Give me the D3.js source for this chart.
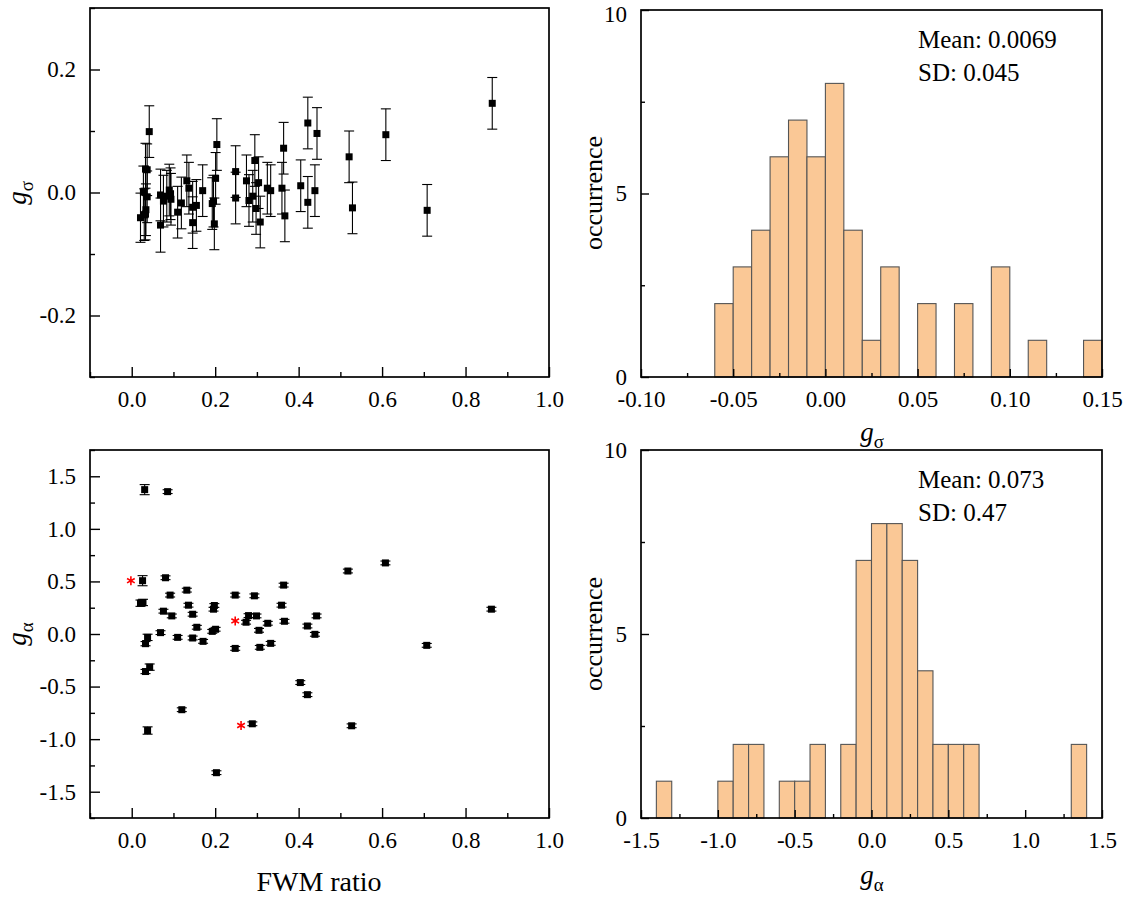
<!DOCTYPE html>
<html><head><meta charset="utf-8">
<script src="https://cdn.jsdelivr.net/npm/d3@7"></script>
<style>
body{margin:0;background:#fff;}
svg{display:block;font-family:"Liberation Serif","Times New Roman",serif;}
</style></head>
<body><svg id="c" width="1125" height="898"></svg>
<script>
// ---------- data ----------
const fwmSigma = [0.021,0.030,0.033,0.028,0.037,0.033,0.037,0.042,0.069,0.069,0.076,0.084,0.093,0.094,0.110,0.119,0.132,0.137,0.146,0.146,0.155,0.170,0.204,0.201,0.193,0.196,0.198,0.249,0.249,0.275,0.281,0.290,0.295,0.304,0.298,0.308,0.325,0.333,0.364,0.360,0.367,0.405,0.422,0.444,0.422,0.439,0.521,0.529,0.609,0.708,0.864,0.034,0.090];
const gSigma   = [-0.041,-0.036,-0.035,0.001,-0.007,0.038,0.037,0.099,-0.053,-0.004,-0.014,-0.006,-0.002,-0.011,-0.032,-0.017,0.019,0.007,-0.024,-0.049,-0.021,0.003,0.078,0.023,-0.018,-0.014,-0.051,0.034,-0.009,0.019,-0.013,-0.006,0.052,0.016,-0.026,-0.048,0.007,0.003,0.072,0.007,-0.038,0.011,0.113,0.096,-0.016,0.003,0.058,-0.025,0.094,-0.029,0.145,-0.028,0.004];
const gSigmaErr= [0.040,0.042,0.042,0.042,0.042,0.042,0.042,0.042,0.044,0.042,0.042,0.042,0.042,0.042,0.042,0.042,0.042,0.042,0.042,0.042,0.042,0.042,0.042,0.042,0.042,0.042,0.042,0.042,0.042,0.042,0.042,0.042,0.042,0.042,0.042,0.042,0.042,0.042,0.042,0.042,0.042,0.042,0.042,0.042,0.042,0.042,0.042,0.042,0.042,0.042,0.042,0.042,0.042];

const fwmAlpha = [0.031,0.086,0.026,0.081,0.092,0.132,0.021,0.027,0.076,0.096,0.136,0.146,0.156,0.069,0.110,0.146,0.171,0.198,0.196,0.193,0.201,0.038,0.033,0.043,0.033,0.120,0.038,0.203,0.248,0.248,0.294,0.280,0.299,0.274,0.326,0.305,0.307,0.333,0.289,0.364,0.359,0.366,0.421,0.443,0.439,0.404,0.421,0.518,0.527,0.608,0.707,0.862];
const gAlpha   = [1.373,1.354,0.507,0.535,0.370,0.417,0.293,0.300,0.217,0.172,0.274,0.188,0.064,0.013,-0.032,-0.038,-0.070,0.271,0.236,0.025,0.045,-0.032,-0.092,-0.315,-0.357,-0.720,-0.918,-1.319,0.370,-0.137,0.363,0.175,0.172,0.112,0.102,0.035,-0.127,-0.089,-0.854,0.465,0.274,0.121,0.076,0.172,-0.003,-0.462,-0.577,0.599,-0.873,0.676,-0.108,0.236];
const gAlphaErr= [0.048,0.018,0.048,0.018,0.018,0.018,0.030,0.030,0.018,0.018,0.018,0.018,0.018,0.018,0.018,0.018,0.018,0.018,0.018,0.018,0.018,0.030,0.020,0.030,0.020,0.018,0.035,0.018,0.018,0.018,0.018,0.018,0.018,0.018,0.018,0.018,0.018,0.018,0.018,0.018,0.018,0.018,0.018,0.018,0.018,0.018,0.018,0.018,0.018,0.018,0.018,0.018];

const starFwm   = [-0.002, 0.248, 0.262];
const starAlpha = [0.507, 0.124, -0.870];

const sigmaBinStart = -0.06, sigmaBinWidth = 0.01;
const sigmaCounts = [2,3,4,6,7,6,8,4,1,3,0,2,0,2,0,3,0,1,0,0,1];
const alphaBinStart = -1.4, alphaBinWidth = 0.1;
const alphaCounts = [1,0,0,0,1,2,2,0,1,1,2,0,2,7,8,8,7,4,2,2,2,0,0,0,0,0,0,2];

const fwmMajor = [0.0,0.2,0.4,0.6,0.8,1.0], fwmMinor = [-0.1,0.1,0.3,0.5,0.7,0.9];
const gsMajor = [-0.2,0.0,0.2], gsMinor = [-0.3,-0.1,0.1,0.3];
const gaMajor = [-1.5,-1.0,-0.5,0.0,0.5,1.0,1.5], gaMinor = [-1.75,-1.25,-0.75,-0.25,0.25,0.75,1.25,1.75];
const hsMajor = [-0.10,-0.05,0.00,0.05,0.10,0.15], hsMinor = [-0.075,-0.025,0.025,0.075,0.125];
const haMajor = [-1.5,-1.0,-0.5,0.0,0.5,1.0,1.5], haMinor = [-1.25,-0.75,-0.25,0.25,0.75,1.25];
const occMajor = [0,5,10], occMinor = [2.5,7.5];
const statsSigma = ["Mean: 0.0069","SD: 0.045"];
const statsAlpha = ["Mean: 0.073","SD: 0.47"];

// ---------- drawing ----------
const svg = d3.select("#c");
const TICK = 23, TXT = 25, TITLE = 27;

function panel(x0,x1,y0,y1,xd,yd){
  return {x:d3.scaleLinear().domain(xd).range([x0,x1]),
          y:d3.scaleLinear().domain(yd).range([y1,y0]), x0,x1,y0,y1};
}
function axes(p, xMaj, xMin, yMaj, yMin, fx, fy, majLen, minLen){
  const g = svg.append("g");
  const bx = g.append("g").attr("transform",`translate(0,${p.y1})`);
  bx.call(d3.axisBottom(p.x).tickValues(xMin).tickSize(-minLen).tickFormat(""));
  bx.append("g").call(d3.axisBottom(p.x).tickValues(xMaj).tickSize(-majLen).tickPadding(14).tickFormat(fx));
  const ly = g.append("g").attr("transform",`translate(${p.x0},0)`);
  ly.call(d3.axisLeft(p.y).tickValues(yMin).tickSize(-minLen).tickFormat(""));
  ly.append("g").call(d3.axisLeft(p.y).tickValues(yMaj).tickSize(-majLen).tickPadding(14).tickFormat(fy));
  g.selectAll(".domain").remove();
  g.selectAll(".tick line").attr("stroke","#000").attr("stroke-width",1.4);
  g.selectAll(".tick text").attr("font-family","Liberation Serif").attr("font-size",TICK).attr("fill","#000");
  // keep the topmost y label inside the picture
  ly.selectAll(".tick text").filter(d=>p.y(d)-p.y0<4 && p.y0<20).attr("dy","0.5em");
  return g;
}
function frame(p){
  svg.append("rect").attr("x",p.x0).attr("y",p.y0).attr("width",p.x1-p.x0).attr("height",p.y1-p.y0)
    .attr("fill","none").attr("stroke","#000").attr("stroke-width",1.7);
}
function clip(id,p){
  svg.append("clipPath").attr("id",id).append("rect").attr("x",p.x0).attr("y",p.y0).attr("width",p.x1-p.x0).attr("height",p.y1-p.y0);
}
function scatter(p, xs, ys, es, cid){
  const g = svg.append("g").attr("clip-path",`url(#${cid})`);
  const d = xs.map((x,i)=>({x, y:ys[i], e:es[i]}));
  const eb = g.selectAll("g.eb").data(d).join("g").attr("stroke","#000").attr("stroke-width",1.1);
  eb.append("line").attr("x1",v=>p.x(v.x)).attr("x2",v=>p.x(v.x)).attr("y1",v=>p.y(v.y+v.e)).attr("y2",v=>p.y(v.y-v.e));
  eb.append("line").attr("x1",v=>p.x(v.x)-5).attr("x2",v=>p.x(v.x)+5).attr("y1",v=>p.y(v.y+v.e)).attr("y2",v=>p.y(v.y+v.e));
  eb.append("line").attr("x1",v=>p.x(v.x)-5).attr("x2",v=>p.x(v.x)+5).attr("y1",v=>p.y(v.y-v.e)).attr("y2",v=>p.y(v.y-v.e));
  g.selectAll("rect.m").data(d).join("rect").attr("x",v=>p.x(v.x)-3.5).attr("y",v=>p.y(v.y)-3.5)
    .attr("width",7).attr("height",7).attr("fill","#000");
}
function hist(p, start, w, counts){
  const d = counts.map((c,i)=>({a:start+i*w, b:start+(i+1)*w, c})).filter(v=>v.c>0);
  svg.append("g").selectAll("rect").data(d).join("rect")
    .attr("x",v=>p.x(v.a)).attr("width",v=>p.x(v.b)-p.x(v.a))
    .attr("y",v=>p.y(v.c)).attr("height",v=>p.y(0)-p.y(v.c))
    .attr("fill","#FAC896").attr("stroke","#555").attr("stroke-width",1.1);
}
function gLabel(x,y,sub,rot,size){
  const t = svg.append("text").attr("transform",`translate(${x},${y})${rot?" rotate(-90)":""}`)
    .attr("text-anchor","middle").attr("font-size",size).attr("fill","#000");
  t.append("tspan").attr("font-style","italic").text("g");
  t.append("tspan").attr("font-size",size*0.7).attr("dy",size*0.25).text(sub);
}
function stats(p, lines){
  svg.append("g").selectAll("text").data(lines).join("text")
    .attr("x",p.x0+277).attr("y",(d,i)=>p.y0+38+i*33).attr("font-size",TXT).attr("fill","#000").text(d=>d);
}

const f1 = d=>d.toFixed(1), f2 = d=>d.toFixed(2), f0 = d=>String(d);

// top-left
const pTL = panel(90,549,8,377,[-0.1,1.0],[-0.3,0.3]);
clip("cTL",pTL);
scatter(pTL, fwmSigma, gSigma, gSigmaErr, "cTL");
axes(pTL, fwmMajor, fwmMinor, gsMajor, gsMinor, f1, f1, 10, 5);
frame(pTL);
gLabel(26,193,"σ",true,TITLE);

// bottom-left
const pBL = panel(90,549,450,818,[-0.1,1.0],[-1.75,1.75]);
clip("cBL",pBL);
scatter(pBL, fwmAlpha, gAlpha, gAlphaErr, "cBL");
svg.append("g").selectAll("path").data(starFwm.map((x,i)=>({x,y:starAlpha[i]}))).join("path")
  .attr("transform",d=>`translate(${pBL.x(d.x)},${pBL.y(d.y)})`)
  .attr("d",d3.symbol(d3.symbolAsterisk,55))
  .attr("fill","none").attr("stroke","#ff0000").attr("stroke-width",1.6);
axes(pBL, fwmMajor, fwmMinor, gaMajor, gaMinor, f1, f1, 10, 5);
frame(pBL);
gLabel(26,634,"α",true,TITLE);
svg.append("text").attr("x",319).attr("y",891).attr("text-anchor","middle").attr("font-size",28).attr("fill","#000").text("FWM ratio");

// top-right
const pTR = panel(641,1102,10,377,[-0.10,0.15],[0,10]);
hist(pTR, sigmaBinStart, sigmaBinWidth, sigmaCounts);
axes(pTR, hsMajor, hsMinor, occMajor, occMinor, f2, f0, 8, 4);
frame(pTR);
stats(pTR, statsSigma);
svg.append("text").attr("transform","translate(602,193) rotate(-90)").attr("text-anchor","middle").attr("font-size",26).attr("fill","#000").text("occurrence");
gLabel(872,441,"σ",false,TITLE);

// bottom-right
const pBR = panel(641,1102,450,818,[-1.5,1.5],[0,10]);
hist(pBR, alphaBinStart, alphaBinWidth, alphaCounts);
axes(pBR, haMajor, haMinor, occMajor, occMinor, f1, f0, 8, 4);
frame(pBR);
stats(pBR, statsAlpha);
svg.append("text").attr("transform","translate(602,634) rotate(-90)").attr("text-anchor","middle").attr("font-size",26).attr("fill","#000").text("occurrence");
gLabel(872,884,"α",false,TITLE);
</script></body></html>
